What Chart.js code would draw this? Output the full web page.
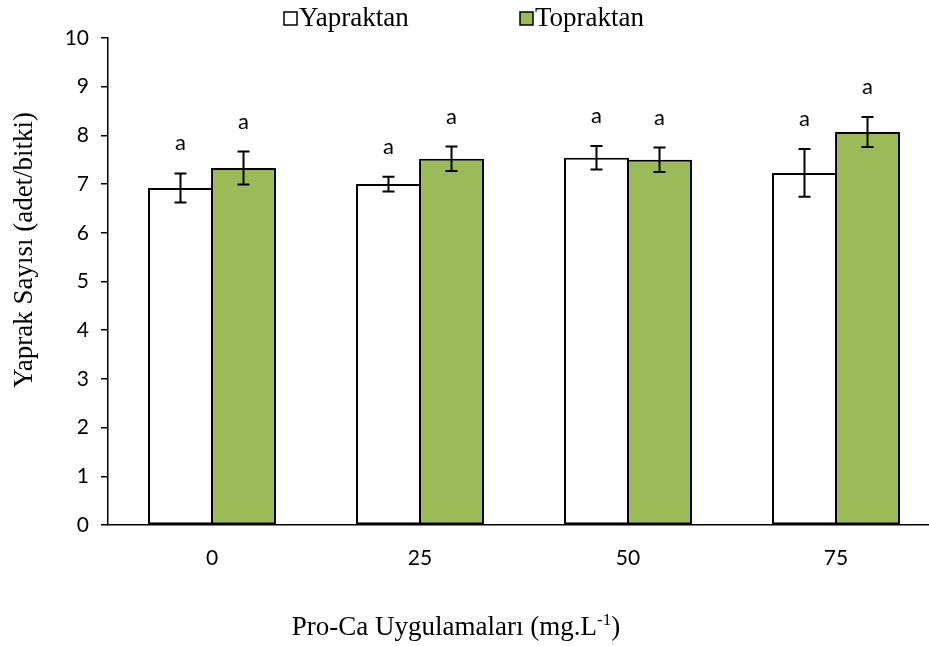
<!DOCTYPE html>
<html>
<head>
<meta charset="utf-8">
<script src="https://cdn.jsdelivr.net/npm/chart.js@4"></script>
<style>
  html, body { margin: 0; padding: 0; background: #fff; overflow: hidden; }
  #wrap { width: 950px; height: 646px; }
</style>
</head>
<body>
<div id="wrap"><canvas id="barChart" width="950" height="646"></canvas></div>
<script>
// ================= DATA =================
const categories = ["0", "25", "50", "75"];
const seriesNames = ["Yapraktan", "Topraktan"];
const yapraktan = [6.92, 7.0, 7.54, 7.23];
const topraktan = [7.33, 7.52, 7.5, 8.07];
const yapraktanErr = [0.3, 0.15, 0.24, 0.49];
const topraktanErr = [0.34, 0.25, 0.25, 0.31];
const yapraktanLetters = ["a", "a", "a", "a"];
const topraktanLetters = ["a", "a", "a", "a"];
const yTicks = [0, 1, 2, 3, 4, 5, 6, 7, 8, 9, 10];

const sansFont = "Lato, 'Open Sans', sans-serif";
const serifFont = "'Liberation Serif', 'DejaVu Serif', serif";

// ================= ERROR BARS + LETTERS =================
const errorBarPlugin = {
  id: "errorBars",
  afterDatasetsDraw(chart) {
    const ctx = chart.ctx;
    const y = chart.scales.y;
    const errs = [yapraktanErr, topraktanErr];
    const letters = [yapraktanLetters, topraktanLetters];
    ctx.save();
    chart.data.datasets.forEach((ds, di) => {
      const meta = chart.getDatasetMeta(di);
      meta.data.forEach((bar, i) => {
        const v = ds.data[i];
        const e = errs[di][i];
        const top = y.getPixelForValue(v + e);
        const bot = y.getPixelForValue(v - e);
        ctx.strokeStyle = "#000";
        ctx.lineWidth = 2;
        ctx.beginPath();
        ctx.moveTo(bar.x, top);
        ctx.lineTo(bar.x, bot);
        ctx.moveTo(bar.x - 6, top);
        ctx.lineTo(bar.x + 6, top);
        ctx.moveTo(bar.x - 6, bot);
        ctx.lineTo(bar.x + 6, bot);
        ctx.stroke();

        ctx.fillStyle = "#000";
        ctx.font = "22px " + sansFont;
        ctx.textAlign = "center";
        ctx.textBaseline = "middle";
        ctx.fillText(letters[di][i], bar.x, top - 30);
      });
    });
    ctx.restore();
  }
};

// ================= LEGEND + AXIS TITLES =================
const textPlugin = {
  id: "chartTexts",
  afterDraw(chart) {
    const ctx = chart.ctx;
    ctx.save();
    ctx.fillStyle = "#000";
    ctx.textBaseline = "alphabetic";

    // legend
    const fills = ["#ffffff", "#9bbb59"];
    const legendX = [284, 520];
    ctx.font = "27px " + serifFont;
    seriesNames.forEach((name, i) => {
      ctx.fillStyle = fills[i];
      ctx.fillRect(legendX[i], 12, 13, 13);
      ctx.strokeStyle = "#000";
      ctx.lineWidth = 1.5;
      ctx.strokeRect(legendX[i], 12, 13, 13);
      ctx.fillStyle = "#000";
      ctx.textAlign = "left";
      ctx.fillText(name, legendX[i] + 15, 26);
    });

    // y title
    ctx.save();
    ctx.translate(25, 250);
    ctx.rotate(-Math.PI / 2);
    ctx.textAlign = "center";
    ctx.textBaseline = "middle";
    ctx.font = "27px " + serifFont;
    ctx.fillText("Yaprak Sayısı (adet/bitki)", 0, 0);
    ctx.restore();

    // x title with superscript
    const main = "Pro-Ca Uygulamaları (mg.L";
    const sup = "-1";
    const end = ")";
    ctx.font = "27px " + serifFont;
    const w1 = ctx.measureText(main).width;
    const w3 = ctx.measureText(end).width;
    ctx.font = "17px " + serifFont;
    const w2 = ctx.measureText(sup).width;
    let x = 456 - (w1 + w2 + w3) / 2;
    ctx.textAlign = "left";
    ctx.font = "27px " + serifFont;
    ctx.fillText(main, x, 635);
    x += w1;
    ctx.font = "17px " + serifFont;
    ctx.fillText(sup, x, 625);
    x += w2;
    ctx.font = "27px " + serifFont;
    ctx.fillText(end, x, 635);
    ctx.restore();
  }
};

// ================= CHART =================
window.onload = () => {
  const ctx = document.getElementById("barChart");

  new Chart(ctx.getContext("2d"), {
    type: "bar",
    data: {
      labels: categories,
      datasets: [
        {
          label: seriesNames[0],
          data: yapraktan,
          backgroundColor: "#ffffff",
          borderColor: "#000000",
          borderWidth: 2,
          borderSkipped: false,
          categoryPercentage: 0.606,
          barPercentage: 1.03
        },
        {
          label: seriesNames[1],
          data: topraktan,
          backgroundColor: "#9bbb59",
          borderColor: "#000000",
          borderWidth: 2,
          borderSkipped: false,
          categoryPercentage: 0.606,
          barPercentage: 1.03
        }
      ]
    },
    options: {
      responsive: false,
      animation: false,
      layout: { padding: { top: 38, right: 10, left: 0, bottom: 0 } },
      plugins: {
        legend: { display: false },
        tooltip: { enabled: false }
      },
      scales: {
        x: {
          grid: { display: false, drawTicks: false },
          border: { display: true, color: "#000", width: 1.5 },
          ticks: {
            color: "#000",
            padding: 21,
            font: { family: sansFont, size: 21 }
          },
          afterFit: (scale) => { scale.height = 121; }
        },
        y: {
          min: 0,
          max: 10,
          afterBuildTicks: (scale) => {
            scale.ticks = yTicks.map(v => ({ value: v }));
          },
          grid: {
            drawOnChartArea: false,
            drawTicks: true,
            tickLength: 7,
            color: "#000",
            lineWidth: 1.5
          },
          border: { display: true, color: "#000", width: 1.5 },
          ticks: {
            color: "#000",
            padding: 12,
            font: { family: sansFont, size: 21 }
          },
          afterFit: (scale) => { scale.width = 108; }
        }
      }
    },
    plugins: [errorBarPlugin, textPlugin]
  });
};
</script>
</body>
</html>
